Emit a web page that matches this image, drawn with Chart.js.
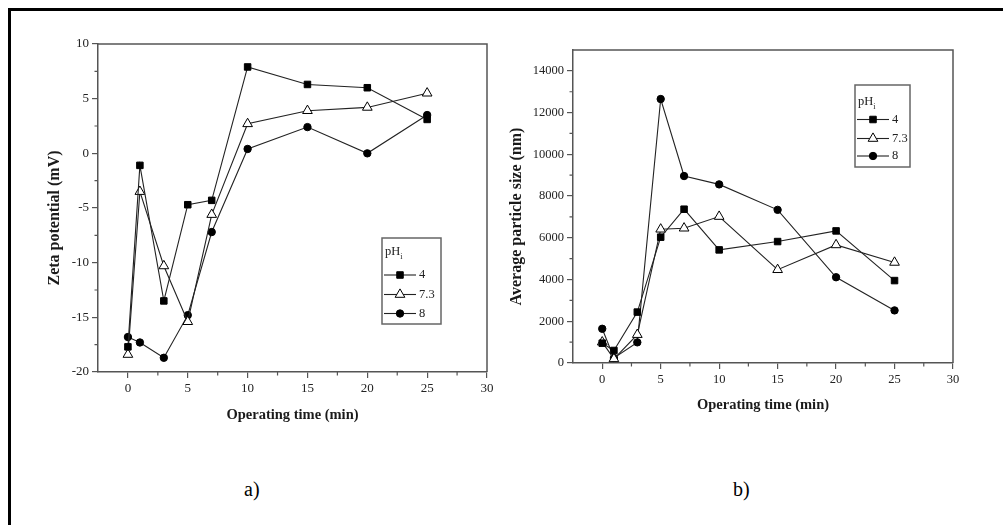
<!DOCTYPE html>
<html>
<head>
<meta charset="utf-8">
<script src="https://cdn.jsdelivr.net/npm/chart.js@4.4.1/dist/chart.umd.min.js"></script>
<style>
  html, body { margin: 0; padding: 0; background: #fff; width: 1003px; height: 525px; overflow: hidden; }
  .frame { position: absolute; left: 8px; top: 8px; width: 1100px; height: 600px;
           border-left: 3px solid #000; border-top: 3px solid #000; }
  .box { position: absolute; }
  #boxA { left: 0; top: 0; width: 500px; height: 440px; }
  #boxB { left: 500px; top: 0; width: 503px; height: 440px; }
  .cap { position: absolute; top: 478px; font-family: 'Liberation Serif', 'Times New Roman', serif;
         font-size: 20px; color: #000; }
</style>
</head>
<body>
<div class="frame"></div>
<div class="box" id="boxA"><canvas id="zeta"></canvas></div>
<div class="box" id="boxB"><canvas id="size"></canvas></div>
<div class="cap" style="left:244px">a)</div>
<div class="cap" style="left:733px">b)</div>

<script>
// Sampling times (min)
const timeMin = [0, 1, 3, 5, 7, 10, 15, 20, 25];

// Initial pH of each run
const phLabels = ['4', '7.3', '8'];

// Zeta potential (mV)
const zetaPH4  = [-17.7, -1.1, -13.5, -4.7, -4.3, 7.9, 6.3, 6.0, 3.1];
const zetaPH73 = [-18.4, -3.5, -10.3, -15.4, -5.6, 2.7, 3.9, 4.2, 5.5];
const zetaPH8  = [-16.8, -17.3, -18.7, -14.8, -7.2, 0.4, 2.4, 0.0, 3.5];

// Average particle size (nm)
const sizePH4  = [950, 600, 2440, 6030, 7370, 5420, 5820, 6330, 3950];
const sizePH73 = [1000, 200, 1360, 6410, 6460, 7020, 4470, 5660, 4820];
const sizePH8  = [1640, 240, 990, 12650, 8960, 8560, 7340, 4110, 2520];

// Axis ticks
const timeTicks  = [0, 5, 10, 15, 20, 25, 30];
const timeMinor  = [2.5, 7.5, 12.5, 17.5, 22.5, 27.5];
const zetaTicks  = [-20, -15, -10, -5, 0, 5, 10];
const zetaMinor  = [-17.5, -12.5, -7.5, -2.5, 2.5, 7.5];
const sizeTicks  = [0, 2000, 4000, 6000, 8000, 10000, 12000, 14000];
const sizeMinor  = [1000, 3000, 5000, 7000, 9000, 11000, 13000];

const SERIF = "'Liberation Serif', 'Times New Roman', serif";
const AXIS = '#555';
const LINE = '#222';
// trailing pad nudges the rotated axis titles slightly below the axis midpoint
const TITLE_PAD = '\u00a0\u00a0\u00a0\u00a0\u00a0';

const markers = [
  { pointStyle: 'rect',     radius: 4.6, bg: '#000', border: '#000' },
  { pointStyle: 'triangle', radius: 5.6, bg: '#fff', border: '#000' },
  { pointStyle: 'circle',   radius: 3.7, bg: '#000', border: '#000' }
];

function series(values, i) {
  const m = markers[i];
  return {
    label: phLabels[i],
    data: timeMin.map((t, k) => ({ x: t, y: values[k] })),
    borderColor: LINE,
    borderWidth: 1.1,
    pointStyle: m.pointStyle,
    pointRadius: m.radius,
    pointHoverRadius: m.radius,
    pointBackgroundColor: m.bg,
    pointBorderColor: m.border,
    pointBorderWidth: 1,
    tension: 0
  };
}

// Frame on the top/right of the plot, short minor ticks and the boxed legend
const framePlugin = {
  id: 'frameAndLegend',
  afterDraw(chart, args, opts) {
    const { ctx, chartArea: a, scales } = chart;
    ctx.save();
    ctx.strokeStyle = AXIS;
    ctx.lineWidth = 1.5;
    ctx.beginPath();
    ctx.moveTo(a.left, a.top);
    ctx.lineTo(a.right, a.top);
    ctx.lineTo(a.right, a.bottom);
    ctx.stroke();

    // minor ticks, outward
    ctx.lineWidth = 1.2;
    ctx.beginPath();
    opts.xMinor.forEach(v => {
      const px = scales.x.getPixelForValue(v);
      ctx.moveTo(px, a.bottom);
      ctx.lineTo(px, a.bottom + 3.5);
    });
    opts.yMinor.forEach(v => {
      const py = scales.y.getPixelForValue(v);
      ctx.moveTo(a.left, py);
      ctx.lineTo(a.left - 3.5, py);
    });
    ctx.stroke();

    // legend box
    const L = opts.legend;
    ctx.lineWidth = 1.5;
    ctx.strokeStyle = '#666';
    ctx.fillStyle = '#fff';
    ctx.fillRect(L.x, L.y, L.w, L.h);
    ctx.strokeRect(L.x, L.y, L.w, L.h);

    ctx.fillStyle = '#222';
    ctx.textBaseline = 'middle';
    ctx.textAlign = 'left';
    ctx.font = '12.5px ' + SERIF;
    ctx.fillText('pH', L.x + 3, L.titleY);
    const w = ctx.measureText('pH').width;
    ctx.font = '8px ' + SERIF;
    ctx.fillText('i', L.x + 3 + w, L.titleY + 5);

    chart.data.datasets.forEach((ds, i) => {
      const y = L.rows[i];
      ctx.strokeStyle = LINE;
      ctx.lineWidth = 1.1;
      ctx.beginPath();
      ctx.moveTo(L.lineX0, y);
      ctx.lineTo(L.lineX1, y);
      ctx.stroke();
      ctx.fillStyle = ds.pointBackgroundColor;
      ctx.strokeStyle = ds.pointBorderColor;
      ctx.lineWidth = 1;
      Chart.helpers.drawPoint(ctx, {
        pointStyle: ds.pointStyle, radius: ds.pointRadius, borderWidth: 1, rotation: 0
      }, (L.lineX0 + L.lineX1) / 2, y);
      ctx.fillStyle = '#222';
      ctx.font = '12.5px ' + SERIF;
      ctx.fillText(ds.label, L.labelX, y);
    });
    ctx.restore();
  }
};

function makeChart(id, cfg) {
  const tickFont = { family: SERIF, size: cfg.tickSize };
  return new Chart(document.getElementById(id), {
    type: 'line',
    data: { datasets: cfg.datasets },
    plugins: [framePlugin],
    options: {
      responsive: true,
      maintainAspectRatio: false,
      animation: false,
      events: [],
      layout: { padding: cfg.padding },
      plugins: {
        legend: { display: false },
        tooltip: { enabled: false },
        frameAndLegend: { xMinor: timeMinor, yMinor: cfg.yMinor, legend: cfg.legend }
      },
      scales: {
        x: {
          type: 'linear', min: -2.5, max: 30,
          afterBuildTicks: s => { s.ticks = timeTicks.map(v => ({ value: v })); },
          afterFit: s => { s.height = cfg.xHeight; },
          ticks: { font: tickFont, color: '#222', padding: 3, maxRotation: 0, autoSkip: false,
                   callback: v => String(v) },
          grid: { drawOnChartArea: false, drawTicks: true, tickLength: 6, color: AXIS, lineWidth: 1.2 },
          border: { color: AXIS, width: 1.5 },
          title: { display: true, text: 'Operating time (min)',
                   font: { family: SERIF, size: 14.5, weight: 'bold' }, color: '#1a1a1a',
                   padding: { top: 0, bottom: cfg.xTitlePad } }
        },
        y: {
          type: 'linear', min: cfg.yMin, max: cfg.yMax,
          afterBuildTicks: s => { s.ticks = cfg.yTicks.map(v => ({ value: v })); },
          afterFit: s => { s.width = cfg.yWidth; },
          ticks: { font: tickFont, color: '#222', padding: 3, autoSkip: false,
                   callback: v => String(v) },
          grid: { drawOnChartArea: false, drawTicks: true, tickLength: 6, color: AXIS, lineWidth: 1.2 },
          border: { color: AXIS, width: 1.5 },
          title: { display: true, text: cfg.yTitle + TITLE_PAD,
                   font: { family: SERIF, size: 16, weight: 'bold' }, color: '#1a1a1a',
                   padding: { top: cfg.yTitlePad, bottom: 0 } }
        }
      }
    }
  });
}

makeChart('zeta', {
  datasets: [series(zetaPH4, 0), series(zetaPH73, 1), series(zetaPH8, 2)],
  yMin: -20, yMax: 10, yTicks: zetaTicks, yMinor: zetaMinor,
  yTitle: 'Zeta potential (mV)',
  tickSize: 13,
  padding: { left: 44, top: 44, right: 13, bottom: 0 },
  yWidth: 54, xHeight: 68, yTitlePad: 1.5, xTitlePad: 16,
  legend: { x: 382, y: 238, w: 59, h: 86, titleY: 252,
            rows: [275, 294.5, 313.5], lineX0: 384, lineX1: 416, labelX: 419 }
});

makeChart('size', {
  datasets: [series(sizePH4, 0), series(sizePH73, 1), series(sizePH8, 2)],
  yMin: 0, yMax: 15000, yTicks: sizeTicks, yMinor: sizeMinor,
  yTitle: 'Average particle size (nm)',
  tickSize: 12.5,
  padding: { left: 5, top: 50, right: 50, bottom: 0 },
  yWidth: 68, xHeight: 77, yTitlePad: 2, xTitlePad: 26,
  legend: { x: 355, y: 85, w: 55, h: 82, titleY: 101.5,
            rows: [119.5, 138.5, 156], lineX0: 357, lineX1: 389, labelX: 392 }
});
</script>
</body>
</html>
